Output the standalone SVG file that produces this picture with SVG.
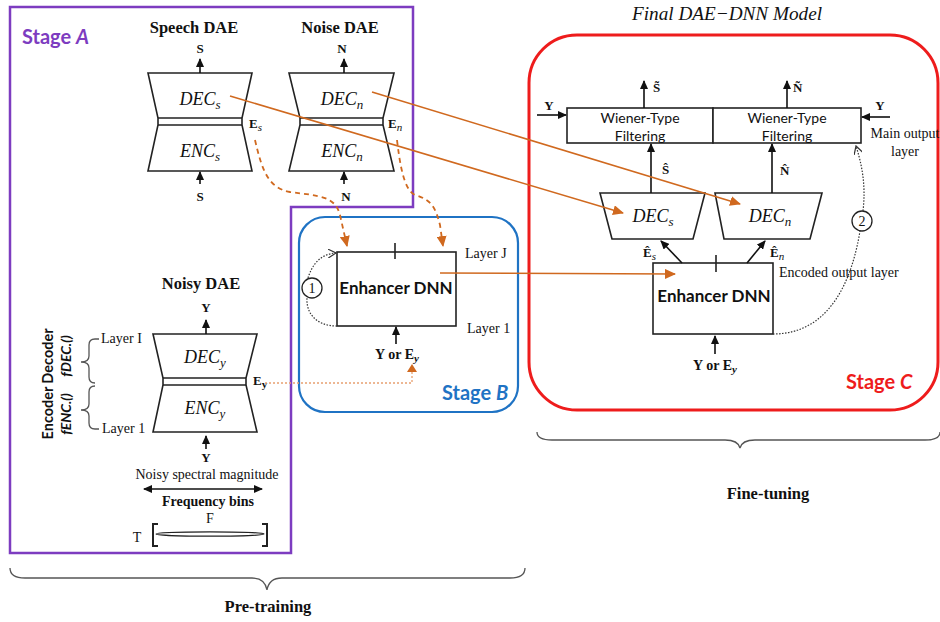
<svg xmlns="http://www.w3.org/2000/svg" width="940" height="622" viewBox="0 0 940 622">
  <style>
    .ln { fill: none; stroke: #222; stroke-width: 1.6; }
    .box { fill: #fff; stroke: #222; stroke-width: 1.6; }
    .arr { fill: none; stroke: #111; stroke-width: 1.6; marker-end: url(#ah); }
    .org { fill: none; stroke: #d0691f; stroke-width: 1.6; }
    .dash { fill: none; stroke: #d0691f; stroke-width: 1.8; stroke-dasharray: 5 4; marker-end: url(#aho); }
    .dot { fill: none; stroke: #333; stroke-width: 1.2; stroke-dasharray: 1.5 1.5; }
    .ser { font-family: "Liberation Serif", "Times New Roman", serif; fill: #111; }
    .serb { font-family: "Liberation Serif", "Times New Roman", serif; font-weight: bold; fill: #111; }
    .math { font-family: "Liberation Serif", "Times New Roman", serif; font-style: italic; fill: #111; font-size: 18px; }
    .sub { font-family: "Liberation Serif", "Times New Roman", serif; font-style: italic; font-weight: normal; font-size: 11px; }
    .sans { font-family: Lato, "Open Sans", "Liberation Sans", sans-serif; fill: #111; }
    .brace { fill: none; stroke: #555; stroke-width: 1.3; }
  </style>
  <defs>
    <marker id="ah" markerUnits="userSpaceOnUse" markerWidth="9" markerHeight="8" refX="8" refY="4" orient="auto-start-reverse">
      <path d="M0,0 L9,4 L0,8 z" fill="#111"/>
    </marker>
    <marker id="aho" markerUnits="userSpaceOnUse" markerWidth="11" markerHeight="10" refX="10" refY="5" orient="auto">
      <path d="M0,0 L11,5 L0,10 z" fill="#d0691f"/>
    </marker>
    <marker id="ahd" markerUnits="userSpaceOnUse" markerWidth="9" markerHeight="9" refX="8" refY="4.5" orient="auto">
      <path d="M0,0 L8,4.5 L0,9" fill="none" stroke="#333" stroke-width="1.2"/>
    </marker>
  </defs>

  <!-- Stage A frame -->
  <g id="stageA">
    <path d="M10,7 H413 V207 H291 V553 H10 Z" fill="none" stroke="#7d3cc0" stroke-width="2.5"/>
    <text x="22" y="44" class="sans" font-size="20" font-weight="bold" style="fill:#7d3cc0">Stage <tspan font-style="italic">A</tspan></text>
  </g>

  <!-- Speech DAE -->
  <g id="speechDAE">
    <text x="194" y="33" class="serb" font-size="16.5" text-anchor="middle">Speech DAE</text>
    <text x="200" y="53" class="serb" font-size="13" text-anchor="middle">S</text>
    <path d="M148,73 H252 L242,118 V125 L252,171 H148 L158,125 V118 Z" class="box"/>
    <path d="M158,118 H242 M158,125 H242" class="ln" stroke-width="2"/>
    <text x="200" y="105" class="math" text-anchor="middle">DEC<tspan font-size="13" dy="4">s</tspan></text>
    <text x="200" y="157" class="math" text-anchor="middle">ENC<tspan font-size="13" dy="4">s</tspan></text>
    <text x="249" y="128" class="serb" font-size="13">E<tspan class="sub" dy="3">s</tspan></text>
    <path d="M200,73 V59" class="arr"/>
    <path d="M200,184 V172" class="arr"/>
    <text x="200" y="201" class="serb" font-size="13" text-anchor="middle">S</text>
  </g>

  <!-- Noise DAE -->
  <g id="noiseDAE">
    <text x="340" y="33" class="serb" font-size="16.5" text-anchor="middle">Noise DAE</text>
    <text x="342" y="53" class="serb" font-size="13" text-anchor="middle">N</text>
    <path d="M289,73 H394 L383,118 V125 L394,171 H289 L300,125 V118 Z" class="box"/>
    <path d="M300,118 H383 M300,125 H383" class="ln" stroke-width="2"/>
    <text x="342" y="105" class="math" text-anchor="middle">DEC<tspan font-size="13" dy="4">n</tspan></text>
    <text x="342" y="157" class="math" text-anchor="middle">ENC<tspan font-size="13" dy="4">n</tspan></text>
    <text x="388" y="128" class="serb" font-size="13">E<tspan class="sub" dy="3">n</tspan></text>
    <path d="M344,73 V59" class="arr"/>
    <path d="M344,184 V172" class="arr"/>
    <text x="346" y="201" class="serb" font-size="13" text-anchor="middle">N</text>
  </g>

  <!-- Noisy DAE -->
  <g id="noisyDAE">
    <text x="201" y="289" class="serb" font-size="16.5" text-anchor="middle">Noisy DAE</text>
    <text x="206" y="312" class="serb" font-size="13" text-anchor="middle">Y</text>
    <path d="M153,334 H257 L246,378 V385 L257,432 H153 L163,385 V378 Z" class="box"/>
    <path d="M163,378 H246 M163,385 H246" class="ln" stroke-width="2"/>
    <text x="205" y="363" class="math" text-anchor="middle">DEC<tspan font-size="13" dy="4">y</tspan></text>
    <text x="205" y="414" class="math" text-anchor="middle">ENC<tspan font-size="13" dy="4">y</tspan></text>
    <text x="253" y="385" class="serb" font-size="13">E<tspan style="font-size:11px" dy="3">y</tspan></text>
    <path d="M206,334 V320" class="arr"/>
    <path d="M206,449 V436" class="arr"/>
    <text x="206" y="462" class="serb" font-size="13" text-anchor="middle">Y</text>
    <text x="207" y="479" class="ser" font-size="14" text-anchor="middle">Noisy spectral magnitude</text>
    <path d="M144,489 H262" class="arr" marker-start="url(#ah)"/>
    <text x="208" y="506" class="serb" font-size="14" text-anchor="middle">Frequency bins</text>
    <text x="210" y="523" class="ser" font-size="14" text-anchor="middle">F</text>
    <text x="137" y="542" class="ser" font-size="14" text-anchor="middle">T</text>
    <path d="M158,524 H153 V546 H158 M262,524 H267 V546 H262" fill="none" stroke="#222" stroke-width="2"/>
    <ellipse cx="210" cy="534" rx="54" ry="2.2" fill="none" stroke="#222" stroke-width="1.3"/>
    <!-- layer labels and braces -->
    <text x="101" y="343" class="ser" font-size="14">Layer I</text>
    <text x="102" y="433" class="ser" font-size="14">Layer 1</text>
    <path d="M99,339 H95 Q89,339 89,345 V356 Q89,362 81,362 Q89,362 89,368 V377 Q89,383 95,383" class="brace" stroke="#333"/>
    <path d="M95,386 Q89,386 89,392 V404 Q89,410 81,410 Q89,410 89,416 V423 Q89,429 95,429 H99" class="brace" stroke="#333"/>
    <text transform="translate(53,413) rotate(-90)" class="sans" font-size="14.5" font-weight="bold" text-anchor="middle">Encoder</text>
    <text transform="translate(53,356) rotate(-90)" class="sans" font-size="14.5" font-weight="bold" text-anchor="middle">Decoder</text>
    <text transform="translate(71,414) rotate(-90)" class="sans" font-size="14" font-weight="bold" font-style="italic" text-anchor="middle">fENC.()</text>
    <text transform="translate(71,356) rotate(-90)" class="sans" font-size="14" font-weight="bold" font-style="italic" text-anchor="middle">fDEC.()</text>
  </g>

  <!-- Stage B -->
  <g id="stageB">
    <rect x="299" y="217" width="219" height="195" rx="26" fill="none" stroke="#1f73c4" stroke-width="2.2"/>
    <text x="442" y="400" class="sans" font-size="20" font-weight="bold" style="fill:#1f73c4">Stage <tspan font-style="italic">B</tspan></text>
  </g>

  <g id="enhancerB">
    <rect x="337" y="252" width="119" height="74" class="box"/>
    <path d="M395,243 V259" class="ln"/>
    <text x="396" y="294" class="sans" font-size="17" font-weight="bold" text-anchor="middle">Enhancer DNN</text>
    <text x="465" y="258" class="ser" font-size="14">Layer J</text>
    <text x="467" y="333" class="ser" font-size="14">Layer 1</text>
    <path d="M396,344 V327" class="arr"/>
    <text x="397" y="359" class="serb" font-size="14" text-anchor="middle">Y or E<tspan style="font-size:11px" font-style="italic" dy="3">y</tspan></text>
    <circle cx="312" cy="288" r="10" fill="#fff" stroke="#222" stroke-width="1.3"/>
    <text x="312" y="293" class="ser" font-size="14" text-anchor="middle">1</text>
  </g>

  <!-- Stage C -->
  <g id="stageC">
    <rect x="529" y="35" width="409" height="375" rx="48" fill="none" stroke="#ee1c1c" stroke-width="3"/>
    <text x="727" y="20" class="ser" font-size="19" font-style="italic" text-anchor="middle" textLength="190" lengthAdjust="spacingAndGlyphs">Final DAE−DNN Model</text>
    <text x="846" y="389" class="sans" font-size="20" font-weight="bold" style="fill:#ee1c1c">Stage <tspan font-style="italic">C</tspan></text>
  </g>

  <g id="wiener">
    <rect x="567" y="108" width="146" height="35" class="box"/>
    <rect x="713" y="108" width="148" height="35" class="box"/>
    <text x="640" y="123" class="sans" font-size="14" text-anchor="middle">Wiener-Type</text>
    <text x="640" y="141" class="sans" font-size="14" text-anchor="middle">Filtering</text>
    <text x="787" y="123" class="sans" font-size="14" text-anchor="middle">Wiener-Type</text>
    <text x="787" y="141" class="sans" font-size="14" text-anchor="middle">Filtering</text>
    <path d="M644,108 V81" class="arr"/>
    <text x="653" y="92" class="serb" font-size="13">S&#x303;</text>
    <path d="M787,108 V81" class="arr"/>
    <text x="793" y="92" class="serb" font-size="13">Ñ</text>
    <text x="549" y="110" class="serb" font-size="13" text-anchor="middle">Y</text>
    <path d="M537,115 H566" class="arr"/>
    <text x="880" y="110" class="serb" font-size="13" text-anchor="middle">Y</text>
    <path d="M890,117 H862" class="arr"/>
    <text x="905" y="138" class="ser" font-size="14" text-anchor="middle">Main output</text>
    <text x="905" y="156" class="ser" font-size="14" text-anchor="middle">layer</text>
  </g>

  <g id="decS_C">
    <path d="M600,193 H705 L693,239 H612 Z" class="box"/>
    <text x="653" y="222" class="math" text-anchor="middle">DEC<tspan font-size="13" dy="4">s</tspan></text>
    <path d="M651,193 V144" class="arr"/>
    <text x="662" y="174" class="serb" font-size="13">Ŝ</text>
  </g>

  <g id="decN_C">
    <path d="M715,193 H822 L810,239 H724 Z" class="box"/>
    <text x="770" y="222" class="math" text-anchor="middle">DEC<tspan font-size="13" dy="4">n</tspan></text>
    <path d="M772,193 V144" class="arr"/>
    <text x="780" y="175" class="serb" font-size="13">N&#x302;</text>
  </g>

  <g id="enhancerC">
    <rect x="653" y="263" width="120" height="71" class="box"/>
    <path d="M716,255 V272" class="ln"/>
    <text x="714" y="302" class="sans" font-size="17" font-weight="bold" text-anchor="middle">Enhancer DNN</text>
    <path d="M682,263 L661,241" class="arr"/>
    <path d="M747,263 L765,241" class="arr"/>
    <text x="643" y="257" class="serb" font-size="13">Ê<tspan class="sub" dy="3">s</tspan></text>
    <text x="770" y="257" class="serb" font-size="13">Ê<tspan class="sub" dy="3">n</tspan></text>
    <text x="779" y="277" class="ser" font-size="14">Encoded output layer</text>
    <path d="M715,354 V336" class="arr"/>
    <text x="715" y="370" class="serb" font-size="14" text-anchor="middle">Y or E<tspan style="font-size:11px" font-style="italic" dy="3">y</tspan></text>
    <circle cx="862" cy="221" r="10" fill="#fff" stroke="#222" stroke-width="1.3"/>
    <text x="862" y="226" class="ser" font-size="14" text-anchor="middle">2</text>
  </g>

  <!-- connectors -->
  <g id="connectors">
    <path d="M230,96 L623,213" class="org" marker-end="url(#aho)"/>
    <path d="M372,92 L740,204" class="org" marker-end="url(#aho)"/>
    <path d="M440,273 L675,274" class="org" marker-end="url(#aho)"/>
    <path d="M255,140 C262,170 268,188 290,192 C320,196 335,196 340,215 L347,246" class="dash"/>
    <path d="M397,140 C400,165 404,190 415,195 C433,200 436,210 440,225 L443,246" class="dash"/>
    <path d="M265,383 H412 V370" fill="none" stroke="#e8a070" stroke-width="1.3" stroke-dasharray="2 2"/>
    <path d="M407,372 L412,364 L417,372 z" fill="#d0691f"/>
    <path d="M337,326 C315,326 306,312 307,298" class="dot"/>
    <path d="M308,278 C312,265 320,254 336,253" class="dot" marker-end="url(#ahd)"/>
    <path d="M773,334 C830,334 852,280 860,231" class="dot"/>
    <path d="M863,211 C866,185 862,165 856,146" class="dot" marker-end="url(#ahd)"/>
    <path d="M10,568 Q10,578 25,578 H252 Q265,578 267,590 Q269,578 282,578 H510 Q525,578 525,568" class="brace"/>
    <path d="M537,432 Q537,440 552,440 H725 Q738,440 740,448 Q742,440 755,440 H925 Q940,440 940,432" class="brace"/>
  </g>

  <text x="268" y="612" class="serb" font-size="16.5" text-anchor="middle">Pre-training</text>
  <text x="768" y="499" class="serb" font-size="16.5" text-anchor="middle">Fine-tuning</text>
</svg>
